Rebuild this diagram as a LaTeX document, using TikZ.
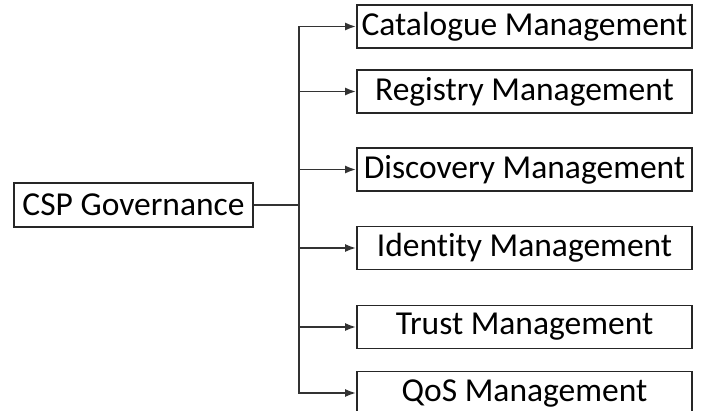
\documentclass[tikz,border=0pt]{standalone}
\usepackage{fontspec}
\setmainfont{Carlito}[Ligatures=CommonOff]
\usetikzlibrary{arrows.meta}
\begin{document}
\begin{tikzpicture}[x=1pt,y=-1pt,
  box/.style={draw=black!85,line width=1.8pt,minimum width=335pt,minimum height=43pt,inner sep=0pt,
    font=\fontsize{33.5}{38}\selectfont,text=black},
  rootbox/.style={box,minimum width=239pt,minimum height=44pt},
  conn/.style={draw=black!80,line width=1.8pt},
  arr/.style={conn,-{Latex[length=11pt,width=8pt]}}]
\clip (0,0) rectangle (703,410);
\fill[white] (0,0) rectangle (703,410);
\node[rootbox] (csp) at (133.5,205) {CSP Governance};
\node[box] (b1) at (524.5,26.5) {Catalogue Management};
\node[box] (b2) at (524.5,91.5) {Registry Management};
\node[box] (b3) at (524.5,169.5) {Discovery Management};
\node[box] (b4) at (524.5,248) {Identity Management};
\node[box] (b5) at (524.5,327) {Trust Management};
\node[box] (b6) at (524.5,393) {QoS Management};
\coordinate (j) at (299,205);
\draw[conn] (csp.east) -- (j);
\draw[arr] (j) |- (b1.west);
\draw[arr] (j) |- (b6.west);
\draw[arr] (b2.west -| j) -- (b2.west);
\draw[arr] (b3.west -| j) -- (b3.west);
\draw[arr] (b4.west -| j) -- (b4.west);
\draw[arr] (b5.west -| j) -- (b5.west);
\end{tikzpicture}
\end{document}
